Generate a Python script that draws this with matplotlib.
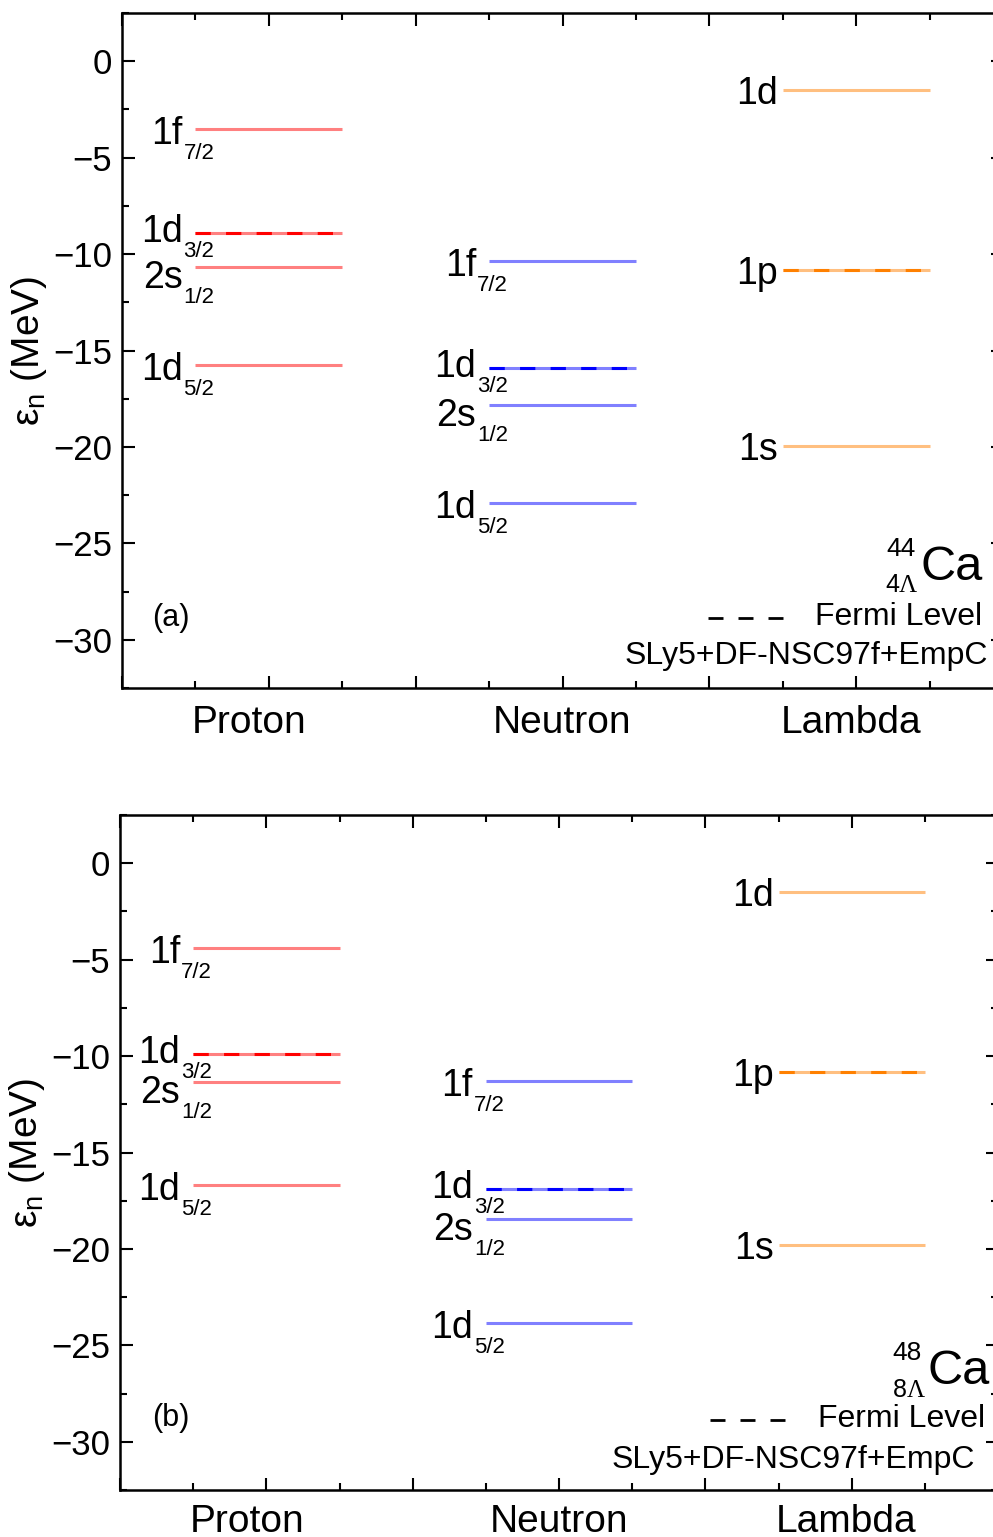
import matplotlib
matplotlib.use('Agg')
import matplotlib.pyplot as plt
from matplotlib.ticker import MultipleLocator

plt.rcParams['font.family'] = ['Liberation Sans', 'DejaVu Sans']
plt.rcParams['mathtext.fontset'] = 'custom'
plt.rcParams['mathtext.rm'] = 'Liberation Sans'
plt.rcParams['mathtext.it'] = 'Liberation Sans:italic'
plt.rcParams['mathtext.bf'] = 'Liberation Sans:bold'

# ---------------- data ----------------
species = ['Proton', 'Neutron', 'Lambda']
nucleon_orbits = ['1f', '1d', '2s', '1d']
nucleon_j = ['7/2', '3/2', '1/2', '5/2']
lambda_orbits = ['1d', '1p', '1s']

ca44_proton = [-3.53, -8.92, -10.68, -15.77]
ca44_neutron = [-10.37, -15.92, -17.84, -22.93]
ca44_lambda = [-1.50, -10.84, -19.97]

ca48_proton = [-4.40, -9.90, -11.35, -16.68]
ca48_neutron = [-11.30, -16.89, -18.45, -23.83]
ca48_lambda = [-1.50, -10.83, -19.80]

fermi_nucleon_index = 1   # 1d3/2
fermi_lambda_index = 1    # 1p

panel_tags = ['(a)', '(b)']
mass_numbers = ['44', '48']
lambda_numbers = ['4', '8']
model_text = 'SLy5+DF-NSC97f+EmpC'
legend_text = 'Fermi Level'

# ---------------- style ----------------
light_colors = ['#FF8080', '#8080FF', '#FFBF80']
dark_colors = ['#FF0000', '#0000FF', '#FF8000']
centers = [2, 6, 10]
half_width = 1.0
label_x = [1.73, 6.0, 9.93]
LW = 2.2

W, H = 993, 1537
fig = plt.figure(figsize=(W / 100, H / 100), dpi=100)

axes_px = [(122, 13, 881, 675), (120, 815, 878, 675)]
label_base = [-0.067, -0.062]

panels = [
    (ca44_proton, ca44_neutron, ca44_lambda),
    (ca48_proton, ca48_neutron, ca48_lambda),
]

# layout of annotations (axes fractions)
legend_layout = [
    dict(line=(0.665, 0.750, 0.1037), label=(0.7866, 0.105), model=(0.983, 0.0356),
         ca=(0.906, 0.160), sup=(0.901, 0.1956), sub=(0.866, 0.142), tag=(0.034, 0.1037)),
    dict(line=(0.672, 0.757, 0.1037), label=(0.795, 0.105), model=(0.974, 0.0326),
         ca=(0.920, 0.157), sup=(0.913, 0.1926), sub=(0.880, 0.138), tag=(0.0364, 0.1067)),
]

for pi, (ax_px, data) in enumerate(zip(axes_px, panels)):
    x0, y0, w, h = ax_px
    ax = fig.add_axes([x0 / W, 1 - (y0 + h) / H, w / W, h / H])
    ax.set_xlim(0, 12)
    ax.set_ylim(-32.5, 2.5)

    for si, vals in enumerate(data):
        xc = centers[si]
        xa, xb = xc - half_width, xc + half_width
        for v in vals:
            ax.plot([xa, xb], [v, v], color=light_colors[si], lw=LW,
                    solid_capstyle='butt', zorder=2)
        fi = fermi_lambda_index if si == 2 else fermi_nucleon_index
        ax.plot([xa, xb], [vals[fi], vals[fi]], color=dark_colors[si], lw=LW,
                linestyle=(0, (5, 5)), zorder=3)

        for i, v in enumerate(vals):
            if si == 2:
                ax.annotate(lambda_orbits[i], xy=(xa, v), xytext=(-5, -14),
                            textcoords='offset pixels', ha='right', va='baseline',
                            fontsize=27)
                continue
            close_below = any(0 < v - o < 2.5 for o in vals)
            close_above = any(0 < o - v < 2.5 for o in vals)
            dy = 15
            if close_below:
                dy = 9
            elif close_above:
                dy = 21
            ax.annotate(nucleon_orbits[i], xy=(xa, v), xytext=(-13, -dy),
                        textcoords='offset pixels', ha='right', va='baseline',
                        fontsize=27)
            ax.annotate(nucleon_j[i], xy=(xa, v), xytext=(-12, -dy - 15),
                        textcoords='offset pixels', ha='left', va='baseline',
                        fontsize=16)

    # species labels
    for si, name in enumerate(species):
        ax.text(label_x[si], label_base[pi], name, transform=ax.get_xaxis_transform(),
                ha='center', va='baseline', fontsize=28)

    # ticks
    ax.xaxis.set_major_locator(MultipleLocator(2))
    ax.xaxis.set_minor_locator(MultipleLocator(1))
    ax.yaxis.set_major_locator(MultipleLocator(5))
    ax.yaxis.set_minor_locator(MultipleLocator(2.5))
    ax.tick_params(which='both', direction='in', top=True, right=True,
                   bottom=True, left=True, labelbottom=False, width=1.5)
    ax.tick_params(which='major', length=9, labelsize=25, pad=7)
    ax.tick_params(which='minor', length=5)
    for sp in ax.spines.values():
        sp.set_linewidth(1.8)

    ax.set_ylabel('ε$_{\\mathregular{n}}$ (MeV)', fontsize=28, labelpad=3)

    lay = legend_layout[pi]
    lx0, lx1, ly = lay['line']
    ax.plot([lx0, lx1], [ly, ly], transform=ax.transAxes, color='k', lw=2.0,
            linestyle=(0, (5.4, 5.4)), clip_on=False)
    ax.text(lay['label'][0], lay['label'][1], legend_text, transform=ax.transAxes,
            ha='left', va='center', fontsize=23)
    ax.text(lay['model'][0], lay['model'][1], model_text, transform=ax.transAxes,
            ha='right', va='baseline', fontsize=23)
    ax.text(lay['ca'][0], lay['ca'][1], 'Ca', transform=ax.transAxes,
            ha='left', va='baseline', fontsize=35)
    ax.text(lay['sup'][0], lay['sup'][1], mass_numbers[pi], transform=ax.transAxes,
            ha='right', va='baseline', fontsize=19)
    t4 = ax.text(lay['sub'][0], lay['sub'][1], lambda_numbers[pi], transform=ax.transAxes,
                 ha='left', va='baseline', fontsize=18)
    ax.annotate('Λ', xy=(1, 0), xycoords=t4, ha='left', va='bottom', fontsize=18,
                family='Liberation Serif')
    ax.text(lay['tag'][0], lay['tag'][1], panel_tags[pi], transform=ax.transAxes,
            ha='left', va='center', fontsize=22)

fig.savefig('out.png', dpi=100)
